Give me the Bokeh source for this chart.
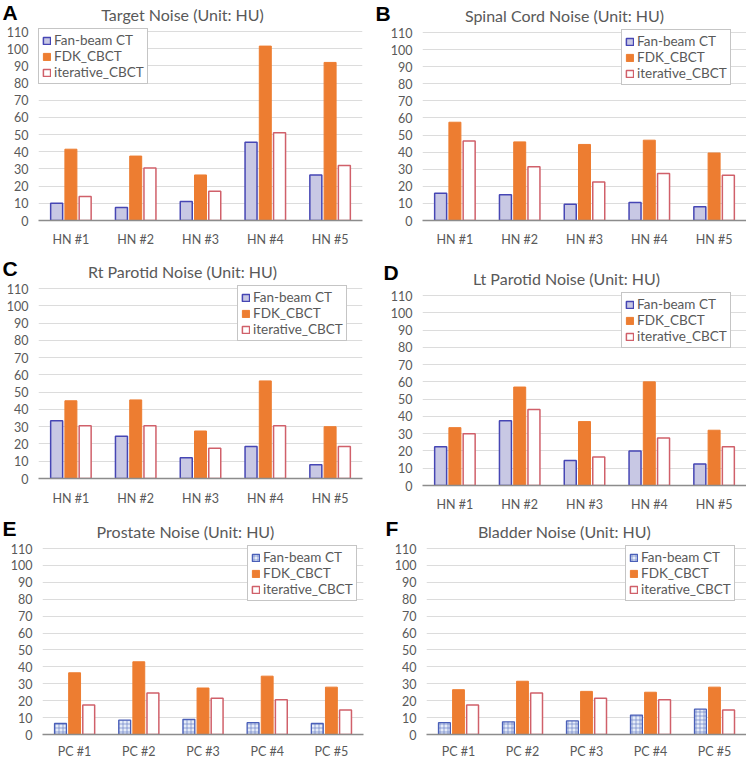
from bokeh.plotting import figure
from bokeh.models import Range1d, FactorRange, Label, Legend, LegendItem, ColumnDataSource, FixedTicker
from bokeh.transform import dodge
from bokeh.layouts import column, row
from bokeh.embed import file_html
from bokeh.resources import INLINE

# ---------------- data ----------------
hn_cases = ["HN #1", "HN #2", "HN #3", "HN #4", "HN #5"]
pc_cases = ["PC #1", "PC #2", "PC #3", "PC #4", "PC #5"]
series_names = ["Fan-beam CT", "FDK_CBCT", "iterative_CBCT"]
y_ticks = [0, 10, 20, 30, 40, 50, 60, 70, 80, 90, 100, 110]

target_fan = [10, 7.5, 11, 45.5, 26.5]
target_fdk = [41.5, 37.5, 26.5, 101.5, 92]
target_iter = [14, 30.5, 17, 51, 32]

cord_fan = [16, 15, 9.5, 10.5, 8]
cord_fdk = [57.5, 46, 44.5, 47, 39.5]
cord_iter = [46.5, 31.5, 22.5, 27.5, 26.5]

rtpar_fan = [33.5, 24.5, 12, 18.5, 8]
rtpar_fdk = [45, 45.5, 27.5, 56.5, 30]
rtpar_iter = [30.5, 30.5, 17.5, 30.5, 18.5]

ltpar_fan = [22.5, 37.5, 14.5, 20, 12.5]
ltpar_fdk = [33.5, 57, 37, 60, 32]
ltpar_iter = [30, 44, 16.5, 27.5, 22.5]

prostate_fan = [6.5, 8.5, 9, 7, 6.5]
prostate_fdk = [36.5, 43, 27.5, 34.5, 28]
prostate_iter = [17.5, 24.5, 21.5, 20.5, 14.5]

bladder_fan = [7, 7.5, 8, 11.5, 15]
bladder_fdk = [26.5, 31.5, 25.5, 25, 28]
bladder_iter = [17.5, 24.5, 21.5, 20.5, 14.5]

GRAY = "#595959"
FONT = "Lato"
W = 373
PAD = 7          # px between frame top and the 110 grid line
LEG_H = 53       # approx legend height in px


def header(letter, title, h, bl, br, lx, tx, ty):
    # the header frame is aligned with the chart frame below it
    hp = figure(width=W, height=h, x_range=Range1d(bl, W - br), y_range=Range1d(0, h),
                x_axis_type=None, y_axis_type=None, output_backend="svg",
                toolbar_location=None, min_border=0, min_border_left=bl,
                min_border_right=br)
    hp.outline_line_color = None
    hp.add_layout(Label(x=lx, y=h / 2.0, x_units="canvas", y_units="canvas",
                        text=letter, text_align="left",
                        text_baseline="middle", text_font="Liberation Sans",
                        text_font_style="bold", text_font_size="21px",
                        text_color="black"), "left")
    hp.add_layout(Label(x=tx, y=h - ty, text=title, text_align="center",
                        text_baseline="middle", text_font=FONT,
                        text_font_size="16px", text_color=GRAY))
    return hp


def chart(cats, fan, fdk, itr, hatched, f110, bl, br, bb, xstand, legx):
    fw = W - bl - br
    fh = f110 + PAD
    p = figure(frame_width=fw, frame_height=fh, x_range=FactorRange(*cats),
               y_range=Range1d(0, 110.0 * fh / f110), output_backend="svg",
               toolbar_location=None, min_border_left=bl, min_border_right=br,
               min_border_top=0, min_border_bottom=bb)
    p.outline_line_color = None
    src = ColumnDataSource(dict(cat=cats, fan=fan, fdk=fdk, itr=itr))
    if hatched:
        r1 = p.vbar(x=dodge("cat", -0.22, range=p.x_range), top="fan", width=0.185,
                    source=src, fill_color="#e6ecf8", line_color="#4a5fb8",
                    line_width=1.3, hatch_pattern="+", hatch_color="#5a72c0",
                    hatch_scale=4, hatch_weight=0.6)
    else:
        r1 = p.vbar(x=dodge("cat", -0.22, range=p.x_range), top="fan", width=0.185,
                    source=src, fill_color="#c8c8e4", line_color="#4646b4",
                    line_width=1.5)
    r2 = p.vbar(x=dodge("cat", 0.0, range=p.x_range), top="fdk", width=0.185,
                source=src, fill_color="#ed7d31", line_color="#ed7d31", line_width=1)
    r3 = p.vbar(x=dodge("cat", 0.22, range=p.x_range), top="itr", width=0.185,
                source=src, fill_color="white", line_color="#d0606a", line_width=1.5)

    p.yaxis.ticker = FixedTicker(ticks=y_ticks)
    p.ygrid.grid_line_color = "#dcdcdc"
    p.xgrid.grid_line_color = None
    for ax in (p.xaxis[0], p.yaxis[0]):
        ax.major_tick_line_color = None
        ax.minor_tick_line_color = None
        ax.major_tick_out = 0
        ax.major_tick_in = 0
        ax.minor_tick_out = 0
        ax.minor_tick_in = 0
        ax.major_label_text_color = GRAY
        ax.major_label_text_font = FONT
        ax.major_label_text_font_size = "12.5px"
    p.yaxis.axis_line_color = None
    p.yaxis.major_label_standoff = 10
    p.xaxis.axis_line_color = "#8c8c8c"
    p.xaxis.axis_line_width = 1.5
    p.xaxis.major_label_standoff = xstand

    legend = Legend(items=[LegendItem(label=series_names[0], renderers=[r1]),
                           LegendItem(label=series_names[1], renderers=[r2]),
                           LegendItem(label=series_names[2], renderers=[r3])],
                    location=(legx, fh - PAD - LEG_H), margin=0, padding=3,
                    spacing=0, glyph_width=9, glyph_height=9, label_standoff=3,
                    label_height=14, label_text_font=FONT,
                    label_text_font_size="13.5px", label_text_color=GRAY,
                    border_line_color="#8c8c8c", border_line_width=1,
                    background_fill_alpha=1.0)
    p.add_layout(legend, "center")
    return p


hA = header("A", "Target Noise (Unit: HU)", 24, 38, 11, 2, 182, 14.4)
cA = chart(hn_cases, target_fan, target_fdk, target_iter, False, 189, 38, 11, 35, 11, 0)
hB = header("B", "Spinal Cord Noise (Unit: HU)", 25, 49, 0, 2, 191, 15.4)
cB = chart(hn_cases, cord_fan, cord_fdk, cord_iter, False, 188, 49, 0, 35, 11, 199)
hC = header("C", "Rt Parotid Noise (Unit: HU)", 26, 38, 11, 2, 182, 16.4)
cC = chart(hn_cases, rtpar_fan, rtpar_fdk, rtpar_iter, False, 190, 38, 11, 35, 12, 199)
hD = header("D", "Lt Parotid Noise (Unit: HU)", 33, 49, 0, 10, 193, 23.4)
cD = chart(hn_cases, ltpar_fan, ltpar_fdk, ltpar_iter, False, 190, 49, 0, 28, 11, 199)
hE = header("E", "Prostate Noise (Unit: HU)", 27, 42, 10, 2, 185, 17.4)
cE = chart(pc_cases, prostate_fan, prostate_fdk, prostate_iter, True, 186, 42, 10, 25, 9, 205)
hF = header("F", "Bladder Noise (Unit: HU)", 27, 53, 0, 12, 191, 17.4)
cF = chart(pc_cases, bladder_fan, bladder_fdk, bladder_iter, True, 186, 53, 0, 25, 9, 199)

layout = column(
    row(column(hA, cA, spacing=0), column(hB, cB, spacing=0), spacing=0),
    row(column(hC, cC, spacing=0), column(hD, cD, spacing=0), spacing=0),
    row(column(hE, cE, spacing=0), column(hF, cF, spacing=0), spacing=0),
    spacing=0)

open("out.html", "w").write(file_html(layout, INLINE))
